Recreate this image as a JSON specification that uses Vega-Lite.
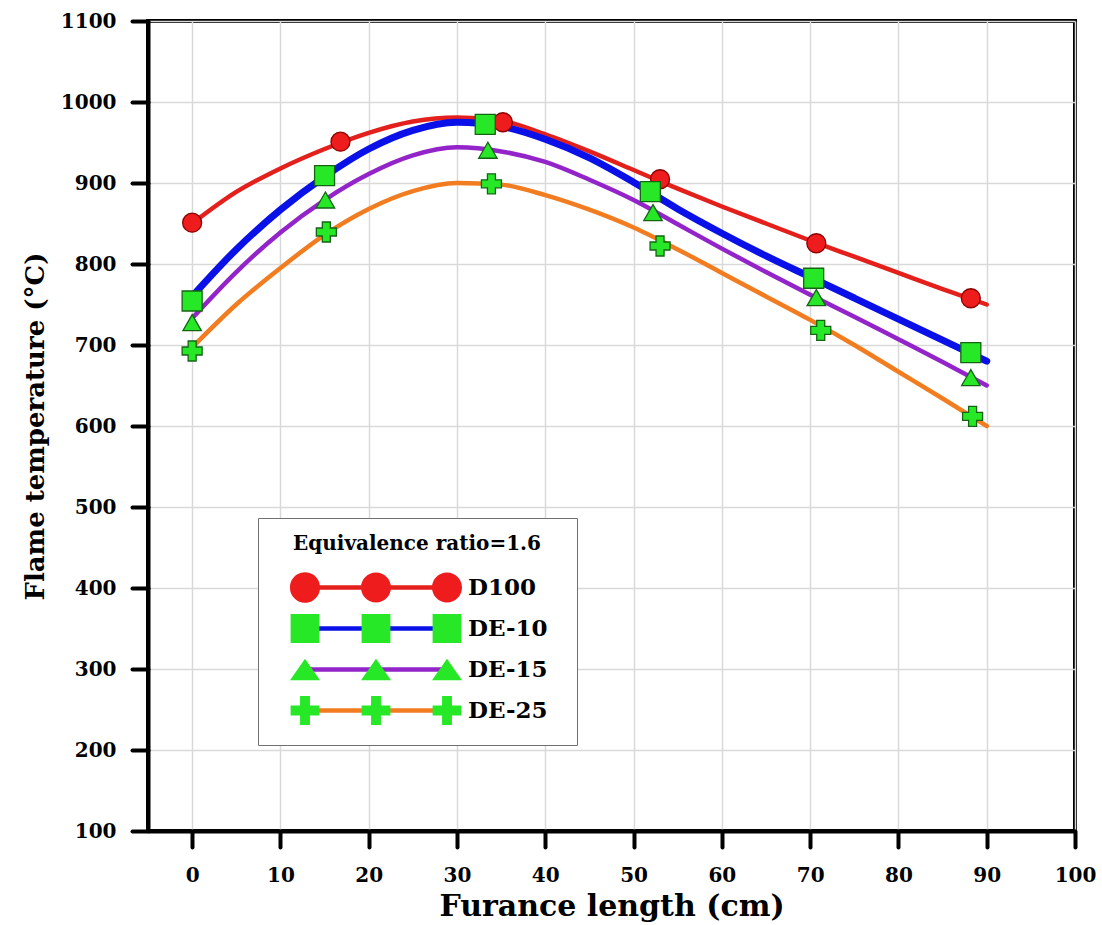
{
  "$schema": "https://vega.github.io/schema/vega-lite/v6.json",
  "width": 927,
  "height": 810,
  "autosize": {"type": "none"},
  "padding": {"left": 148, "top": 21, "right": 27, "bottom": 94},
  "background": "white",
  "config": {
    "view": {"stroke": "black", "strokeWidth": 4},
    "axis": {
      "domainColor": "black", "domainWidth": 4,
      "tickColor": "black", "tickWidth": 4, "tickSize": 16, "tickCap": "round",
      "gridColor": "#d9d9d9", "gridWidth": 1.5,
      "labelFont": "DejaVu Serif", "labelFontSize": 20, "labelFontWeight": "bold", "labelColor": "black",
      "labelOverlap": false, "labelFlush": false,
      "titleFont": "DejaVu Serif", "titleFontWeight": "bold", "titleColor": "black"
    },
    "axisX": {"labelPadding": 18, "titleFontSize": 30, "titlePadding": 6},
    "axisY": {"labelPadding": 16, "titleFontSize": 26, "titlePadding": 12}
  },
  "datasets": {
    "curves": [
      {"series": "D100", "x": 0, "y": 850}, {"series": "D100", "x": 5, "y": 889}, {"series": "D100", "x": 10, "y": 918},
      {"series": "D100", "x": 15, "y": 942}, {"series": "D100", "x": 20, "y": 962}, {"series": "D100", "x": 25, "y": 976},
      {"series": "D100", "x": 30, "y": 981}, {"series": "D100", "x": 35, "y": 977}, {"series": "D100", "x": 40, "y": 960},
      {"series": "D100", "x": 45, "y": 939}, {"series": "D100", "x": 50, "y": 916}, {"series": "D100", "x": 55, "y": 893},
      {"series": "D100", "x": 60, "y": 871}, {"series": "D100", "x": 65, "y": 850}, {"series": "D100", "x": 70, "y": 829},
      {"series": "D100", "x": 75, "y": 809}, {"series": "D100", "x": 80, "y": 789}, {"series": "D100", "x": 85, "y": 769},
      {"series": "D100", "x": 90, "y": 750},
      {"series": "DE-10", "x": 0, "y": 760}, {"series": "DE-10", "x": 5, "y": 818}, {"series": "DE-10", "x": 10, "y": 867},
      {"series": "DE-10", "x": 15, "y": 908}, {"series": "DE-10", "x": 20, "y": 942}, {"series": "DE-10", "x": 25, "y": 965},
      {"series": "DE-10", "x": 30, "y": 975}, {"series": "DE-10", "x": 35, "y": 970}, {"series": "DE-10", "x": 40, "y": 954},
      {"series": "DE-10", "x": 45, "y": 931}, {"series": "DE-10", "x": 50, "y": 901}, {"series": "DE-10", "x": 55, "y": 868},
      {"series": "DE-10", "x": 60, "y": 838}, {"series": "DE-10", "x": 65, "y": 810}, {"series": "DE-10", "x": 70, "y": 784},
      {"series": "DE-10", "x": 75, "y": 758}, {"series": "DE-10", "x": 80, "y": 732}, {"series": "DE-10", "x": 85, "y": 706},
      {"series": "DE-10", "x": 90, "y": 680},
      {"series": "DE-15", "x": 0, "y": 733}, {"series": "DE-15", "x": 5, "y": 790}, {"series": "DE-15", "x": 10, "y": 839},
      {"series": "DE-15", "x": 15, "y": 879}, {"series": "DE-15", "x": 20, "y": 911}, {"series": "DE-15", "x": 25, "y": 934},
      {"series": "DE-15", "x": 30, "y": 944}, {"series": "DE-15", "x": 35, "y": 939}, {"series": "DE-15", "x": 40, "y": 926},
      {"series": "DE-15", "x": 45, "y": 904}, {"series": "DE-15", "x": 50, "y": 879}, {"series": "DE-15", "x": 55, "y": 849},
      {"series": "DE-15", "x": 60, "y": 819}, {"series": "DE-15", "x": 65, "y": 790}, {"series": "DE-15", "x": 70, "y": 762},
      {"series": "DE-15", "x": 75, "y": 735}, {"series": "DE-15", "x": 80, "y": 707}, {"series": "DE-15", "x": 85, "y": 679},
      {"series": "DE-15", "x": 90, "y": 650},
      {"series": "DE-25", "x": 0, "y": 697}, {"series": "DE-25", "x": 5, "y": 750}, {"series": "DE-25", "x": 10, "y": 795},
      {"series": "DE-25", "x": 15, "y": 836}, {"series": "DE-25", "x": 20, "y": 868}, {"series": "DE-25", "x": 25, "y": 890},
      {"series": "DE-25", "x": 30, "y": 900}, {"series": "DE-25", "x": 35, "y": 898}, {"series": "DE-25", "x": 40, "y": 885},
      {"series": "DE-25", "x": 45, "y": 867}, {"series": "DE-25", "x": 50, "y": 845}, {"series": "DE-25", "x": 55, "y": 818},
      {"series": "DE-25", "x": 60, "y": 789}, {"series": "DE-25", "x": 65, "y": 760}, {"series": "DE-25", "x": 70, "y": 731},
      {"series": "DE-25", "x": 75, "y": 700}, {"series": "DE-25", "x": 80, "y": 667}, {"series": "DE-25", "x": 85, "y": 634},
      {"series": "DE-25", "x": 90, "y": 600}
    ],
    "markers": [
      {"series": "D100", "x": 0, "y": 851}, {"series": "D100", "x": 16.8, "y": 951}, {"series": "D100", "x": 35.2, "y": 975},
      {"series": "D100", "x": 53.0, "y": 904.6}, {"series": "D100", "x": 70.7, "y": 825.6}, {"series": "D100", "x": 88.2, "y": 757.7},
      {"series": "DE-10", "x": 0, "y": 754.3}, {"series": "DE-10", "x": 15.0, "y": 909}, {"series": "DE-10", "x": 33.2, "y": 972.5},
      {"series": "DE-10", "x": 51.9, "y": 889.4}, {"series": "DE-10", "x": 70.4, "y": 782.4}, {"series": "DE-10", "x": 88.2, "y": 690.6},
      {"series": "DE-15", "x": 0, "y": 727.6}, {"series": "DE-15", "x": 15.1, "y": 879}, {"series": "DE-15", "x": 33.5, "y": 940.4},
      {"series": "DE-15", "x": 52.2, "y": 863.4}, {"series": "DE-15", "x": 70.7, "y": 758.5}, {"series": "DE-15", "x": 88.2, "y": 659.8},
      {"series": "DE-25", "x": 0, "y": 692.6}, {"series": "DE-25", "x": 15.2, "y": 839.5}, {"series": "DE-25", "x": 33.9, "y": 899},
      {"series": "DE-25", "x": 53.0, "y": 822.2}, {"series": "DE-25", "x": 71.2, "y": 718.1}, {"series": "DE-25", "x": 88.4, "y": 612}
    ]
  },
  "encoding": {
    "x": {
      "field": "x", "type": "quantitative",
      "scale": {"domain": [-5, 100], "nice": false, "zero": false},
      "axis": {"title": "Furance length (cm)", "format": "d", "values": [0, 10, 20, 30, 40, 50, 60, 70, 80, 90, 100], "grid": true}
    },
    "y": {
      "field": "y", "type": "quantitative",
      "scale": {"domain": [100, 1100], "nice": false, "zero": false},
      "axis": {"title": "Flame temperature (°C)", "format": "d", "values": [100, 200, 300, 400, 500, 600, 700, 800, 900, 1000, 1100], "grid": true}
    }
  },
  "layer": [
    {
      "data": {"name": "curves"},
      "mark": {"type": "line", "interpolate": "monotone", "strokeCap": "round"},
      "encoding": {
        "stroke": {
          "field": "series", "type": "nominal",
          "scale": {"range": ["#e3201b", "#0a10e8", "#9324c9", "#f27d20"]},
          "legend": {
            "orient": "none", "legendX": 110, "legendY": 497, "zindex": 1,
            "title": "Equivalence ratio=1.6", "titleLimit": 400,
            "titleFont": "DejaVu Serif", "titleFontSize": 20, "titleFontWeight": "bold", "titleColor": "black",
            "titleAnchor": "middle", "titlePadding": 22,
            "labelFont": "DejaVu Serif", "labelFontSize": 23, "labelFontWeight": "bold", "labelColor": "black",
            "labelOffset": 9.5, "symbolOffset": 161.5, "rowPadding": 4,
            "padding": 16, "fillColor": "white", "strokeColor": "#707070",
            "symbolSize": 324, "symbolStrokeWidth": 1.5,
            "symbolType": "M-15.778,-0.17H0M-15.778,-0.06H0M-15.778,0.06H0M-15.778,0.17H0M0,-1.6667M0,1.6667M12.3,0"
          }
        },
        "strokeWidth": {"condition": {"test": "datum.series === 'DE-10'", "value": 7}, "value": 4.5},
        "detail": {"field": "series"}
      }
    },
    {
      "data": {"name": "markers"},
      "mark": {"type": "point", "filled": true, "opacity": 1, "strokeWidth": 1.3},
      "encoding": {
        "shape": {
          "condition": [
            {"test": "datum.series === 'D100'", "value": "circle"},
            {"test": "datum.series === 'DE-10'", "value": "square"},
            {"test": "datum.series === 'DE-15'", "value": "triangle-up"}
          ],
          "value": "cross"
        },
        "size": {
          "condition": [
            {"test": "datum.series === 'D100'", "value": 361},
            {"test": "datum.series === 'DE-10'", "value": 400},
            {"test": "datum.series === 'DE-15'", "value": 340}
          ],
          "value": 400
        },
        "fill": {"condition": {"test": "datum.series === 'D100'", "value": "#ee1c1c"}, "value": "#27e827"},
        "stroke": {"condition": {"test": "datum.series === 'D100'", "value": "#8b0000"}, "value": "#146414"}
      }
    },
    {
      "data": {"values": []},
      "mark": {"type": "point", "filled": true, "opacity": 1},
      "encoding": {
        "shape": {
          "field": "series", "type": "nominal",
          "scale": {
            "domain": ["D100", "DE-10", "DE-15", "DE-25"],
            "range": [
              "M-1.6667,0A1.6667,1.6667,0,1,1,1.6667,0A1.6667,1.6667,0,1,1,-1.6667,0ZM-9.556,0A1.6667,1.6667,0,1,1,-6.222,0A1.6667,1.6667,0,1,1,-9.556,0ZM-17.444,0A1.6667,1.6667,0,1,1,-14.111,0A1.6667,1.6667,0,1,1,-17.444,0ZM0,-1.6667M0,1.6667M12.3,0",
              "M-1.6,-1.6H1.6V1.6H-1.6ZM-9.489,-1.6H-6.289V1.6H-9.489ZM-17.378,-1.6H-14.178V1.6H-17.378ZM0,-1.6667M0,1.6667M12.3,0",
              "M0,-1.2L1.667,1.2L-1.667,1.2ZM-7.889,-1.2L-6.222,1.2L-9.556,1.2ZM-15.778,-1.2L-14.111,1.2L-17.444,1.2ZM0,-1.6667M0,1.6667M12.3,0",
              "M-1.6,-0.55H-0.55V-1.6H0.55V-0.55H1.6V0.55H0.55V1.6H-0.55V0.55H-1.6ZM-9.489,-0.55H-8.439V-1.6H-7.339V-0.55H-6.289V0.55H-7.339V1.6H-8.439V0.55H-9.489ZM-17.378,-0.55H-16.328V-1.6H-15.228V-0.55H-14.178V0.55H-15.228V1.6H-16.328V0.55H-17.378ZM0,-1.6667M0,1.6667M12.3,0"
            ]
          },
          "legend": {
            "orient": "none", "legendX": 110, "legendY": 497, "zindex": 2,
            "title": "Equivalence ratio=1.6", "titleLimit": 400,
            "titleFont": "DejaVu Serif", "titleFontSize": 20, "titleFontWeight": "bold", "titleColor": "rgba(0,0,0,0)",
            "titleAnchor": "middle", "titlePadding": 22,
            "labelFont": "DejaVu Serif", "labelFontSize": 23, "labelFontWeight": "bold", "labelColor": "rgba(0,0,0,0)",
            "labelOffset": 9.5, "symbolOffset": 161.5, "rowPadding": 4,
            "padding": 16,
            "symbolSize": 324, "symbolStrokeWidth": 1.5, "symbolStrokeColor": "#1b4d1b"
          }
        },
        "fill": {
          "field": "series", "type": "nominal",
          "scale": {"domain": ["D100", "DE-10", "DE-15", "DE-25"], "range": ["#ee1c1c", "#27e827", "#27e827", "#27e827"]},
          "legend": {
            "orient": "none", "legendX": 110, "legendY": 497, "zindex": 2,
            "title": "Equivalence ratio=1.6", "titleLimit": 400,
            "titleFont": "DejaVu Serif", "titleFontSize": 20, "titleFontWeight": "bold", "titleColor": "rgba(0,0,0,0)",
            "titleAnchor": "middle", "titlePadding": 22,
            "labelFont": "DejaVu Serif", "labelFontSize": 23, "labelFontWeight": "bold", "labelColor": "rgba(0,0,0,0)",
            "labelOffset": 9.5, "symbolOffset": 161.5, "rowPadding": 4,
            "padding": 16,
            "symbolSize": 324, "symbolStrokeWidth": 1.5, "symbolStrokeColor": "#1b4d1b"
          }
        }
      }
    }
  ]
}
